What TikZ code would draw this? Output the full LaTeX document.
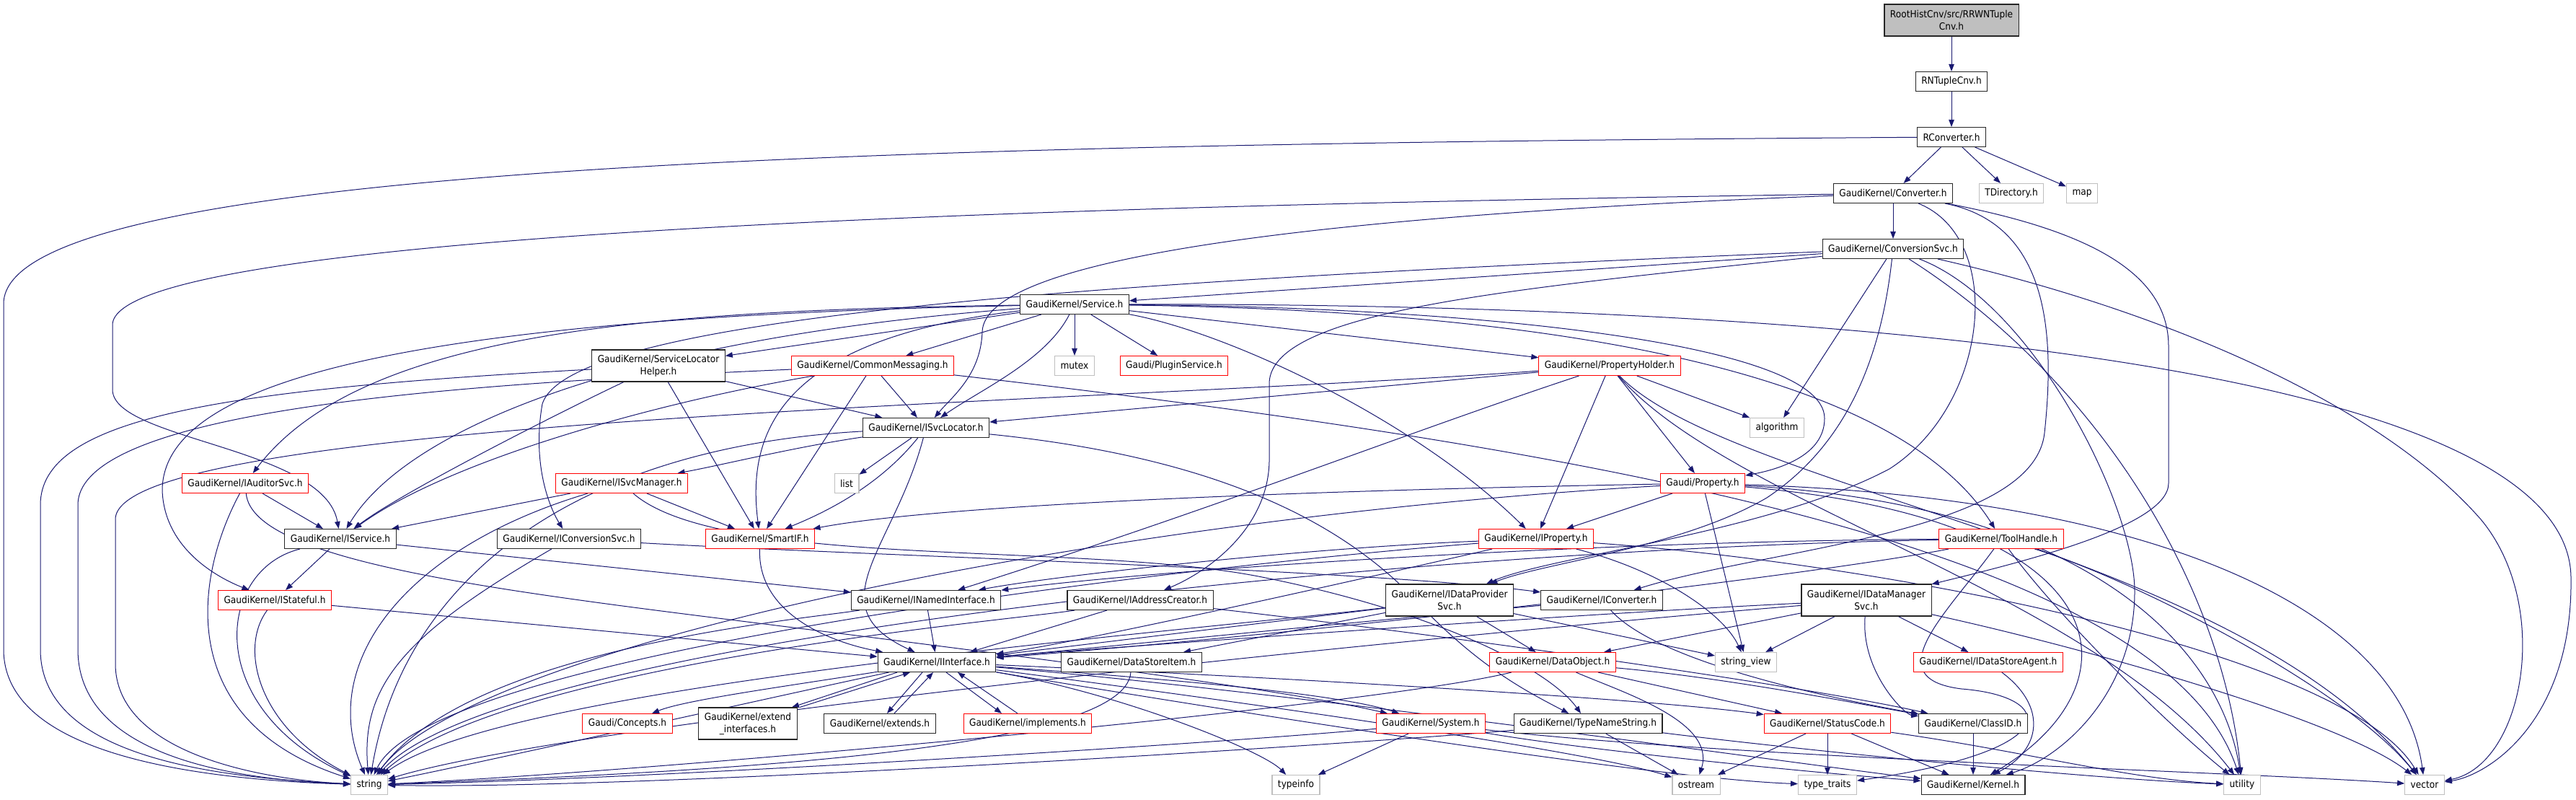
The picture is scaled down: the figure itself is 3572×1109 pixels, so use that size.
\documentclass[tikz,border=0pt]{standalone}
\usepackage{fontspec}
\setmainfont{DejaVu Sans}[FakeStretch=0.9]
\usetikzlibrary{arrows.meta, positioning}
\pgfdeclarelayer{background}
\pgfsetlayers{background,main}
\definecolor{navy}{HTML}{191970}
\definecolor{extgray}{HTML}{BFBFBF}
\tikzstyle{block} = [rectangle, draw=black!85, line width=0.22mm, fill=white, minimum height=5.4mm, inner xsep=1.6mm, inner ysep=0.8mm, align=center, font=\fontsize{7.7}{9.7}\selectfont]
\tikzstyle{partial} = [block, draw=red]
\tikzstyle{external} = [block, draw=extgray]
\tikzstyle{current} = [block, fill=extgray]
\tikzstyle{arrow} = [draw=navy, line width=0.2mm, -{Triangle[length=2mm, width=1.5mm]}]

\begin{document}
\begin{tikzpicture}[x=0.2mm, y=-0.2mm]
	\useasboundingbox (0,0) rectangle (3572,1109);
	\node (RRWNTupleCnv) [current, minimum height=8.8mm] at (2706,28) {RootHistCnv/src/RRWNTuple\\Cnv.h};
	\node (RNTupleCnv) [block] at (2706,113) {RNTupleCnv.h};
	\node (RConverter) [block] at (2706,190) {RConverter.h};
	\node (Converter) [block] at (2625,268) {GaudiKernel/Converter.h};
	\node (TDirectory) [external] at (2789,268) {TDirectory.h};
	\node (Map) [external] at (2887,268) {map};
	\node (ConversionSvc) [block] at (2625,345) {GaudiKernel/ConversionSvc.h};
	\node (Service) [block] at (1490,422) {GaudiKernel/Service.h};
	\node (ServiceLocatorHelper) [block, minimum height=8.8mm] at (913,507) {GaudiKernel/ServiceLocator\\Helper.h};
	\node (CommonMessaging) [partial] at (1210,507) {GaudiKernel/CommonMessaging.h};
	\node (Mutex) [external] at (1490,507) {mutex};
	\node (PluginService) [partial] at (1628,507) {Gaudi/PluginService.h};
	\node (PropertyHolder) [partial] at (2232,507) {GaudiKernel/PropertyHolder.h};
	\node (ISvcLocator) [block] at (1284,593) {GaudiKernel/ISvcLocator.h};
	\node (Algorithm) [external] at (2464,593) {algorithm};
	\node (List) [external] at (1174,670) {list};
	\node (IAuditorSvc) [partial] at (340,670) {GaudiKernel/IAuditorSvc.h};
	\node (ISvcManager) [partial] at (862,670) {GaudiKernel/ISvcManager.h};
	\node (Property) [partial] at (2361,670) {Gaudi/Property.h};
	\node (IService) [block] at (472,747) {GaudiKernel/IService.h};
	\node (IConversionSvc) [block] at (789,747) {GaudiKernel/IConversionSvc.h};
	\node (SmartIF) [partial] at (1054,747) {GaudiKernel/SmartIF.h};
	\node (IProperty) [partial] at (2130,747) {GaudiKernel/IProperty.h};
	\node (ToolHandle) [partial] at (2775,747) {GaudiKernel/ToolHandle.h};
	\node (IStateful) [partial] at (381,832) {GaudiKernel/IStateful.h};
	\node (INamedInterface) [block] at (1284,832) {GaudiKernel/INamedInterface.h};
	\node (IAddressCreator) [block] at (1581,832) {GaudiKernel/IAddressCreator.h};
	\node (IDataProviderSvc) [block, minimum height=8.8mm] at (2010,832) {GaudiKernel/IDataProvider\\Svc.h};
	\node (IConverter) [block] at (2221,832) {GaudiKernel/IConverter.h};
	\node (IDataManagerSvc) [block, minimum height=8.8mm] at (2588,832) {GaudiKernel/IDataManager\\Svc.h};
	\node (IInterface) [block] at (1299,918) {GaudiKernel/IInterface.h};
	\node (DataStoreItem) [block] at (1569,918) {GaudiKernel/DataStoreItem.h};
	\node (DataObject) [partial] at (2153,918) {GaudiKernel/DataObject.h};
	\node (StringView) [external] at (2421,918) {string\_view};
	\node (IDataStoreAgent) [partial] at (2757,918) {GaudiKernel/IDataStoreAgent.h};
	\node (Concepts) [partial] at (870,1003) {Gaudi/Concepts.h};
	\node (ExtendInterfaces) [block, minimum height=8.8mm] at (1037,1003) {GaudiKernel/extend\\\_interfaces.h};
	\node (Extends) [block] at (1220,1003) {GaudiKernel/extends.h};
	\node (Implements) [partial] at (1425,1003) {GaudiKernel/implements.h};
	\node (System) [partial] at (1984,1003) {GaudiKernel/System.h};
	\node (TypeNameString) [block] at (2202,1003) {GaudiKernel/TypeNameString.h};
	\node (StatusCode) [partial] at (2534,1003) {GaudiKernel/StatusCode.h};
	\node (ClassID) [block] at (2736,1003) {GaudiKernel/ClassID.h};
	\node (String) [external] at (512,1088) {string};
	\node (Typeinfo) [external] at (1797,1088) {typeinfo};
	\node (Ostream) [external] at (2352,1088) {ostream};
	\node (TypeTraits) [external] at (2534,1088) {type\_traits};
	\node (Kernel) [block] at (2736,1088) {GaudiKernel/Kernel.h};
	\node (Utility) [external] at (3109,1088) {utility};
	\node (Vector) [external] at (3362,1088) {vector};
	\begin{pgfonlayer}{background}
	\draw [arrow] (RRWNTupleCnv) -- (RNTupleCnv);
	\draw [arrow] (RNTupleCnv) -- (RConverter);
	\draw [arrow] (RConverter) -- (Converter);
	\draw [arrow] (RConverter) -- (TDirectory);
	\draw [arrow] (RConverter) -- (Map);
	\draw [arrow] (RConverter) .. controls (1200,200) and (10,230) .. (5,420) -- (5,900) .. controls (5,1040) and (250,1080) .. (String);
	\draw [arrow] (Converter) -- (ConversionSvc);
	\draw [arrow] (Converter) .. controls (1500,285) and (160,320) .. (156,450) -- (156,540) .. controls (156,610) and (450,620) .. (IService);
	\draw [arrow] (Converter) .. controls (1800,300) and (1365,360) .. (1362,460) .. controls (1360,520) and (1320,550) .. (ISvcLocator);
	\draw [arrow] (Converter) .. controls (2780,330) and (2760,560) .. (2620,650) .. controls (2450,740) and (2150,770) .. (IDataProviderSvc);
	\draw [arrow] (Converter) .. controls (2840,310) and (2850,460) .. (2835,600) .. controls (2820,740) and (2450,760) .. (IConverter);
	\draw [arrow] (Converter) .. controls (2900,320) and (3007,380) .. (3007,480) -- (3007,670) .. controls (3007,730) and (2800,780) .. (IDataManagerSvc);
	\draw [arrow] (ConversionSvc) -- (Service);
	\draw [arrow] (ConversionSvc) .. controls (1500,390) and (790,440) .. (752,560) .. controls (738,640) and (760,700) .. (IConversionSvc);
	\draw [arrow] (ConversionSvc) .. controls (2100,400) and (1765,430) .. (1760,530) -- (1760,640) .. controls (1758,730) and (1680,790) .. (IAddressCreator);
	\draw [arrow] (ConversionSvc) -- (Algorithm);
	\draw [arrow] (ConversionSvc) .. controls (2610,480) and (2570,610) .. (2450,690) .. controls (2330,760) and (2140,780) .. (IDataProviderSvc);
	\draw [arrow] (ConversionSvc) .. controls (2900,520) and (3080,800) .. (Utility);
	\draw [arrow] (ConversionSvc) .. controls (3000,430) and (3300,560) .. (3440,720) .. controls (3540,840) and (3500,1060) .. (Vector);
	\draw [arrow] (ConversionSvc) .. controls (2820,420) and (2960,700) .. (2960,820) .. controls (2960,960) and (2860,1050) .. (Kernel);
	\draw [arrow] (Service) -- (ServiceLocatorHelper);
	\draw [arrow] (Service) -- (CommonMessaging);
	\draw [arrow] (Service) -- (Mutex);
	\draw [arrow] (Service) -- (PluginService);
	\draw [arrow] (Service) .. controls (1450,500) and (1360,540) .. (ISvcLocator);
	\draw [arrow] (Service) .. controls (1080,470) and (1035,600) .. (SmartIF);
	\draw [arrow] (Service) .. controls (900,430) and (500,460) .. (IAuditorSvc);
	\draw [arrow] (Service) .. controls (850,470) and (560,600) .. (IService);
	\draw [arrow] (Service) .. controls (600,440) and (225,520) .. (225,680) .. controls (228,760) and (300,800) .. (IStateful);
	\draw [arrow] (Service) -- (PropertyHolder);
	\draw [arrow] (Service) .. controls (2000,425) and (2530,470) .. (2530,580) .. controls (2530,630) and (2470,650) .. (Property);
	\draw [arrow] (Service) .. controls (1700,460) and (1960,580) .. (IProperty);
	\draw [arrow] (Service) .. controls (2100,430) and (2620,500) .. (ToolHandle);
	\draw [arrow] (Service) .. controls (2500,420) and (3560,500) .. (3565,800) .. controls (3568,1000) and (3450,1075) .. (Vector);
	\draw [arrow] (ServiceLocatorHelper) -- (ISvcLocator);
	\draw [arrow] (ServiceLocatorHelper) .. controls (800,560) and (560,680) .. (IService);
	\draw [arrow] (ServiceLocatorHelper) -- (SmartIF);
	\draw [arrow] (ServiceLocatorHelper) .. controls (300,540) and (56,580) .. (56,700) -- (56,900) .. controls (56,1050) and (300,1078) .. (String);
	\draw [arrow] (CommonMessaging) -- (ISvcLocator);
	\draw [arrow] (CommonMessaging) -- (SmartIF);
	\draw [arrow] (CommonMessaging) .. controls (900,560) and (620,640) .. (IService);
	\draw [arrow] (CommonMessaging) .. controls (700,530) and (108,560) .. (108,700) -- (108,900) .. controls (108,1040) and (300,1080) .. (String);
	\draw [arrow] (CommonMessaging) .. controls (2200,620) and (3000,760) .. (Utility);
	\draw [arrow] (ISvcLocator) -- (List);
	\draw [arrow] (ISvcLocator) .. controls (1230,660) and (1170,700) .. (SmartIF);
	\draw [arrow] (ISvcLocator) .. controls (1240,760) and (1130,840) .. (IInterface);
	\draw [arrow] (ISvcLocator) .. controls (800,620) and (560,800) .. (String);
	\draw [arrow] (ISvcLocator) .. controls (1100,620) and (1000,645) .. (ISvcManager);
	\draw [arrow] (ISvcLocator) .. controls (1750,640) and (1900,760) .. (1980,850) .. controls (2060,930) and (2120,960) .. (TypeNameString);
	\draw [arrow] (PropertyHolder) -- (ISvcLocator);
	\draw [arrow] (PropertyHolder) .. controls (1500,560) and (160,580) .. (160,720) -- (160,920) .. controls (160,1040) and (350,1080) .. (String);
	\draw [arrow] (PropertyHolder) .. controls (1950,600) and (1700,700) .. (INamedInterface);
	\draw [arrow] (PropertyHolder) -- (IProperty);
	\draw [arrow] (PropertyHolder) -- (Property);
	\draw [arrow] (PropertyHolder) -- (Algorithm);
	\draw [arrow] (PropertyHolder) .. controls (2400,700) and (2900,820) .. (Utility);
	\draw [arrow] (PropertyHolder) .. controls (2400,680) and (3100,760) .. (Vector);
	\draw [arrow] (IAuditorSvc) -- (IService);
	\draw [arrow] (IAuditorSvc) .. controls (270,800) and (240,1000) .. (String);
	\draw [arrow] (IAuditorSvc) .. controls (350,780) and (700,820) .. (1100,870) .. controls (1500,920) and (1800,960) .. (System);
	\draw [arrow] (ISvcManager) -- (IService);
	\draw [arrow] (ISvcManager) .. controls (560,760) and (440,920) .. (String);
	\draw [arrow] (ISvcManager) -- (SmartIF);
	\draw [arrow] (ISvcManager) .. controls (1000,790) and (1500,750) .. (1750,800) .. controls (2000,850) and (2150,930) .. (TypeNameString);
	\draw [arrow] (Property) -- (IProperty);
	\draw [arrow] (Property) -- (StringView);
	\draw [arrow] (Property) .. controls (1800,680) and (1300,700) .. (SmartIF);
	\draw [arrow] (Property) .. controls (1500,720) and (650,900) .. (String);
	\draw [arrow] (Property) .. controls (2950,720) and (2970,950) .. (Kernel);
	\draw [arrow] (Property) .. controls (2900,700) and (3080,900) .. (Utility);
	\draw [arrow] (Property) .. controls (3000,690) and (3330,850) .. (Vector);
	\draw [arrow] (IService) -- (INamedInterface);
	\draw [arrow] (IService) -- (IStateful);
	\draw [arrow] (IService) .. controls (300,790) and (280,980) .. (String);
	\draw [arrow] (IConversionSvc) .. controls (1200,770) and (1900,790) .. (IConverter);
	\draw [arrow] (IConversionSvc) .. controls (560,880) and (500,950) .. (String);
	\draw [arrow] (SmartIF) .. controls (1050,850) and (1150,890) .. (IInterface);
	\draw [arrow] (IProperty) .. controls (1800,760) and (1450,800) .. (INamedInterface);
	\draw [arrow] (IProperty) .. controls (1700,780) and (600,900) .. (String);
	\draw [arrow] (IProperty) .. controls (1900,800) and (1500,890) .. (IInterface);
	\draw [arrow] (IProperty) .. controls (2300,790) and (2390,850) .. (StringView);
	\draw [arrow] (IProperty) .. controls (2600,780) and (3250,900) .. (Vector);
	\draw [arrow] (ToolHandle) .. controls (2200,750) and (1600,790) .. (INamedInterface);
	\draw [arrow] (ToolHandle) .. controls (2000,760) and (700,880) .. (String);
	\draw [arrow] (ToolHandle) .. controls (2500,800) and (1800,880) .. (IInterface);
	\draw [arrow] (ToolHandle) .. controls (2700,850) and (2600,940) .. (2720,955) .. controls (2850,965) and (2870,1040) .. (TypeTraits);
	\draw [arrow] (ToolHandle) .. controls (2850,850) and (3000,1000) .. (Utility);
	\draw [arrow] (ToolHandle) .. controls (2950,800) and (3250,950) .. (Vector);
	\draw [arrow] (IStateful) -- (IInterface);
	\draw [arrow] (IStateful) .. controls (330,900) and (360,1010) .. (String);
	\draw [arrow] (INamedInterface) -- (IInterface);
	\draw [arrow] (INamedInterface) .. controls (1100,860) and (650,900) .. (String);
	\draw [arrow] (IAddressCreator) -- (IInterface);
	\draw [arrow] (IAddressCreator) .. controls (1400,860) and (700,920) .. (String);
	\draw [arrow] (IAddressCreator) .. controls (2000,880) and (2500,950) .. (ClassID);
	\draw [arrow] (IDataProviderSvc) .. controls (1700,870) and (1450,900) .. (IInterface);
	\draw [arrow] (IDataProviderSvc) .. controls (1600,880) and (700,950) .. (String);
	\draw [arrow] (IDataProviderSvc) -- (DataStoreItem);
	\draw [arrow] (IDataProviderSvc) -- (DataObject);
	\draw [arrow] (IDataProviderSvc) -- (StringView);
	\draw [arrow] (IConverter) .. controls (1900,860) and (1500,900) .. (IInterface);
	\draw [arrow] (IConverter) .. controls (2300,920) and (2550,970) .. (ClassID);
	\draw [arrow] (IDataManagerSvc) .. controls (2200,850) and (1500,900) .. (IInterface);
	\draw [arrow] (IDataManagerSvc) .. controls (2000,880) and (800,1000) .. (String);
	\draw [arrow] (IDataManagerSvc) -- (DataObject);
	\draw [arrow] (IDataManagerSvc) -- (StringView);
	\draw [arrow] (IDataManagerSvc) .. controls (2580,930) and (2640,990) .. (ClassID);
	\draw [arrow] (IDataManagerSvc) -- (IDataStoreAgent);
	\draw [arrow] (IDataManagerSvc) .. controls (2900,900) and (3250,1000) .. (Vector);
	\draw [arrow] (IInterface) .. controls (1100,950) and (950,970) .. (Concepts);
	\draw [arrow] ([xshift=-11mm]IInterface.south) -- ([xshift=12.2mm]ExtendInterfaces.north);
	\draw [arrow] ([xshift=14.4mm]ExtendInterfaces.north) -- ([xshift=-7.4mm]IInterface.south);
	\draw [arrow] ([xshift=-4mm]IInterface.south) -- ([xshift=2mm]Extends.north);
	\draw [arrow] ([xshift=4mm]Extends.north) -- ([xshift=-1mm]IInterface.south);
	\draw [arrow] ([xshift=2.6mm]IInterface.south) -- ([xshift=-7.2mm]Implements.north);
	\draw [arrow] ([xshift=-2.8mm]Implements.north) -- ([xshift=5.8mm]IInterface.south);
	\draw [arrow] (IInterface) .. controls (1600,940) and (1850,960) .. (System);
	\draw [arrow] (IInterface) .. controls (1550,960) and (1750,1040) .. (Typeinfo);
	\draw [arrow] (IInterface) .. controls (1100,960) and (700,1050) .. (String);
	\draw [arrow] (IInterface) .. controls (1700,970) and (2200,1040) .. (Ostream);
	\draw [arrow] (IInterface) .. controls (1800,940) and (2300,970) .. (StatusCode);
	\draw [arrow] (IInterface) .. controls (1800,960) and (2500,1060) .. (Kernel);
	\draw [arrow] (IInterface) .. controls (1700,985) and (2300,1080) .. (TypeTraits);
	\draw [arrow] (DataStoreItem) .. controls (1560,1040) and (1000,1070) .. (String);
	\draw [arrow] (DataObject) .. controls (1900,980) and (900,1070) .. (String);
	\draw [arrow] (DataObject) .. controls (2400,940) and (2600,980) .. (ClassID);
	\draw [arrow] (DataObject) -- (StatusCode);
	\draw [arrow] (DataObject) .. controls (2250,960) and (2380,1000) .. (Ostream);
	\draw [arrow] (System) .. controls (1700,1030) and (900,1080) .. (String);
	\draw [arrow] (System) -- (Typeinfo);
	\draw [arrow] (System) .. controls (2200,1040) and (2500,1070) .. (Kernel);
	\draw [arrow] (System) .. controls (2400,1050) and (3100,1070) .. (Vector);
	\draw [arrow] (TypeNameString) .. controls (1900,1030) and (900,1095) .. (String);
	\draw [arrow] (TypeNameString) -- (Ostream);
	\draw [arrow] (TypeNameString) .. controls (2500,1040) and (2900,1080) .. (Utility);
	\draw [arrow] (StatusCode) -- (Ostream);
	\draw [arrow] (StatusCode) -- (TypeTraits);
	\draw [arrow] (StatusCode) -- (Kernel);
	\draw [arrow] (StatusCode) .. controls (2800,1040) and (2950,1080) .. (Utility);
	\draw [arrow] (ClassID) -- (Kernel);
	\draw [arrow] (IDataStoreAgent) .. controls (2840,980) and (2830,1040) .. (Kernel);
	\end{pgfonlayer}
\end{tikzpicture}
\end{document}
